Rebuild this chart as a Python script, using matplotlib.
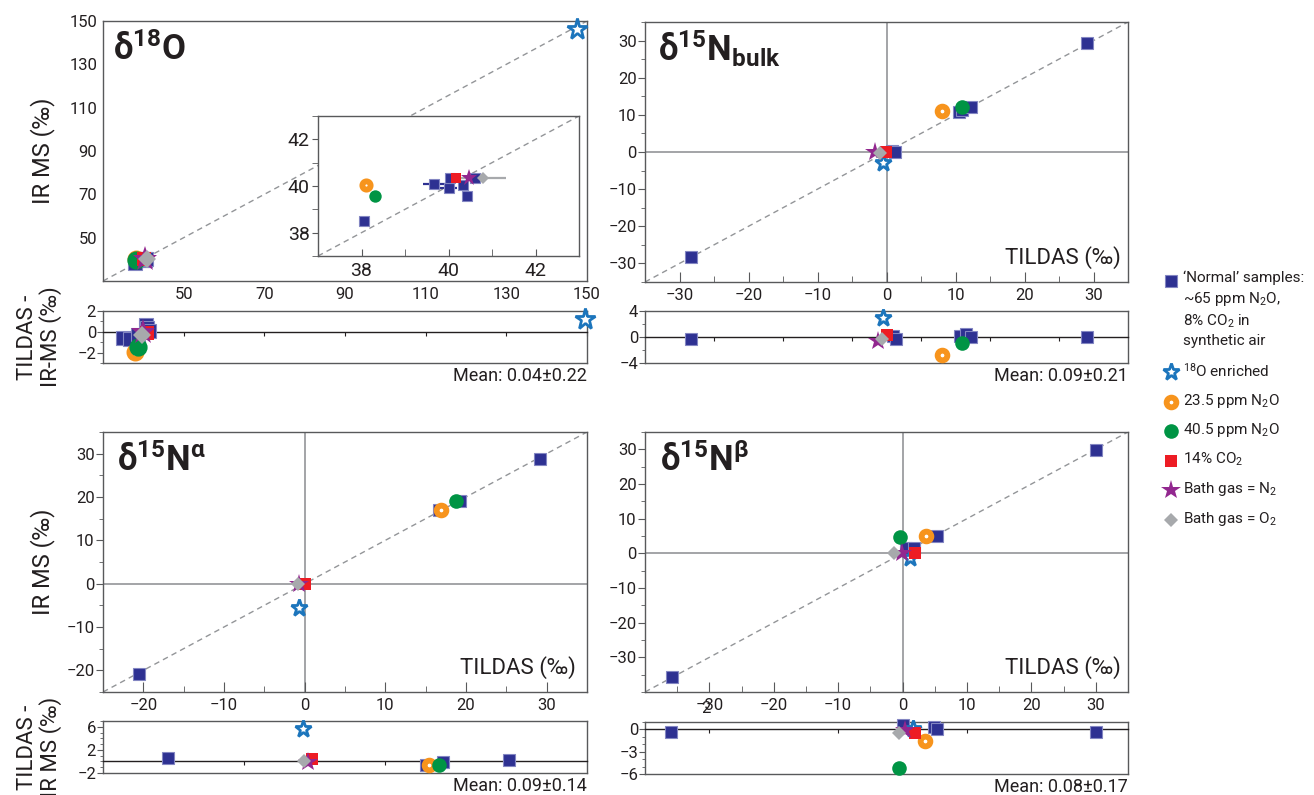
import matplotlib.pyplot as plt
from matplotlib.lines import Line2D
from matplotlib.ticker import FixedLocator, MultipleLocator
from matplotlib import transforms

plt.rcParams['font.family'] = ['Roboto', 'DejaVu Sans']
plt.rcParams['mathtext.fontset'] = 'custom'
plt.rcParams['mathtext.rm'] = 'Roboto'
plt.rcParams['mathtext.bf'] = 'Roboto:bold'
plt.rcParams['mathtext.it'] = 'Roboto:italic'
plt.rcParams['mathtext.default'] = 'regular'

W, H = 1314, 795

NAVY = '#2E3192'
BLUE = '#1C75BC'
ORANGE = '#F7941D'
GREEN = '#009444'
RED = '#ED1C24'
PURPLE = '#92278F'
GREY = '#A7A9AC'
INK = '#231F20'
FRAME = '#58595B'
DASH = '#939598'

keys = ['normal', 'enr', 'n235', 'n405', 'co2', 'bn2', 'bo2']
legend_labels = ['\u2018Normal\u2019 samples:\n~65 ppm N$_2$O,\n8% CO$_2$ in\nsynthetic air',
                 '$^{18}$O enriched', '23.5 ppm N$_2$O', '40.5 ppm N$_2$O',
                 '14% CO$_2$', 'Bath gas = N$_2$', 'Bath gas = O$_2$']

# ---- d18O (TILDAS on x, IRMS on y) ----
o18_normal_x = [38.05, 39.66, 40.0, 40.03, 40.33, 40.42, 40.62]
o18_normal_y = [38.5, 40.07, 39.9, 40.33, 40.04, 39.58, 40.33]
o18_normal_xerr = [0, 0.25, 0.2, 0, 0, 0, 0]
o18_enr_x, o18_enr_y = [147.5], [146.3]
o18_n235_x, o18_n235_y = [38.11], [40.05]
o18_n405_x, o18_n405_y = [38.30], [39.58]
o18_co2_x, o18_co2_y = [40.17], [40.36]
o18_bn2_x, o18_bn2_y = [40.48], [40.33]
o18_bo2_x, o18_bo2_y = [40.80], [40.36]
o18_bo2_xerr = [0.53]

# residuals TILDAS - IRMS
o18r_normal_x = [35.0, 36.8, 38.6, 40.6, 41.0, 41.3]
o18r_normal_y = [-0.62, -0.65, -0.35, 0.7, 0.35, 0.1]
o18r_enr_x, o18r_enr_y = [149.5], [1.2]
o18r_n235_x, o18r_n235_y = [37.9], [-1.9]
o18r_n405_x, o18r_n405_y = [38.8], [-1.45]
o18r_co2_x, o18r_co2_y = [40.8], [-0.15]
o18r_bn2_x, o18r_bn2_y = [40.0], [0.0]
o18r_bo2_x, o18r_bo2_y = [39.6], [-0.3]

# ---- d15N bulk ----
bulk_normal_x = [-28.3, 0.8, 1.2, 10.5, 10.9, 12.2, 29.1]
bulk_normal_y = [-28.4, 0.4, 0.0, 10.8, 11.3, 12.2, 29.4]
bulk_enr_x, bulk_enr_y = [-0.56], [-2.9]
bulk_n235_x, bulk_n235_y = [8.06], [11.0]
bulk_n405_x, bulk_n405_y = [11.0], [12.2]
bulk_co2_x, bulk_co2_y = [-0.06], [0.0]
bulk_bn2_x, bulk_bn2_y = [-1.7], [0.0]
bulk_bo2_x, bulk_bo2_y = [-0.96], [-0.2]

bulkr_normal_x = [-28.3, 1.0, 1.4, 10.7, 11.5, 12.2, 29.1]
bulkr_normal_y = [-0.25, 0.15, -0.25, 0.15, 0.4, 0.05, -0.05]
bulkr_enr_x, bulkr_enr_y = [-0.56], [3.0]
bulkr_n235_x, bulkr_n235_y = [8.06], [-2.77]
bulkr_n405_x, bulkr_n405_y = [11.0], [-0.97]
bulkr_co2_x, bulkr_co2_y = [0.0], [0.26]
bulkr_bn2_x, bulkr_bn2_y = [-1.2], [-0.6]
bulkr_bo2_x, bulkr_bo2_y = [-0.7], [-0.3]

# ---- d15N alpha ----
alpha_normal_x = [-20.5, 16.6, 19.3, 29.2]
alpha_normal_y = [-20.8, 17.0, 19.1, 28.7]
alpha_enr_x, alpha_enr_y = [-0.68], [-5.7]
alpha_n235_x, alpha_n235_y = [16.9], [17.0]
alpha_n405_x, alpha_n405_y = [18.7], [19.1]
alpha_co2_x, alpha_co2_y = [0.1], [-0.15]
alpha_bn2_x, alpha_bn2_y = [-0.68], [-0.15]
alpha_bo2_x, alpha_bo2_y = [-0.8], [0.0]

alphar_normal_x = [-16.9, 15.1, 17.2, 25.3]
alphar_normal_y = [0.55, -0.6, -0.03, 0.26]
alphar_enr_x, alphar_enr_y = [-0.25], [5.6]
alphar_n235_x, alphar_n235_y = [15.4], [-0.6]
alphar_n405_x, alphar_n405_y = [16.6], [-0.6]
alphar_co2_x, alphar_co2_y = [0.94], [0.43]
alphar_bn2_x, alphar_bn2_y = [0.47], [-0.03]
alphar_bo2_x, alphar_bo2_y = [-0.1], [0.0]

# ---- d15N beta ----
beta_normal_x = [-35.8, 0.6, 1.74, 5.3, 30.1]
beta_normal_y = [-35.6, 1.4, 1.4, 5.0, 29.8]
beta_enr_x, beta_enr_y = [1.08], [-1.45]
beta_n235_x, beta_n235_y = [3.66], [5.0]
beta_n405_x, beta_n405_y = [-0.35], [4.8]
beta_co2_x, beta_co2_y = [1.85], [0.0]
beta_bn2_x, beta_bn2_y = [-0.17], [0.0]
beta_bo2_x, beta_bo2_y = [-1.27], [0.0]

betar_normal_x = [-35.9, 0.1, 4.8, 5.4, 30.0]
betar_normal_y = [-0.3, 0.6, 0.36, 0.0, -0.3]
betar_enr_x, betar_enr_y = [1.67], [0.0]
betar_n235_x, betar_n235_y = [3.5], [-1.5]
betar_n405_x, betar_n405_y = [-0.5], [-5.15]
betar_co2_x, betar_co2_y = [1.9], [-0.5]
betar_bn2_x, betar_bn2_y = [0.37], [-0.08]
betar_bo2_x, betar_bo2_y = [-0.5], [-0.53]

# ticks and text
o18_ticks = [50, 70, 90, 110, 130, 150]
inset_ticks = [38, 40, 42]
n_ticks = [-30, -20, -10, 0, 10, 20, 30]
alpha_ticks = [-20, -10, 0, 10, 20, 30]
o18_res_ticks = [-2, 0, 2]
bulk_res_ticks = [-4, 0, 4]
alpha_res_ticks = [-2, 2, 6]
beta_res_ticks = [-6, -3, 0]
means = ['Mean: 0.04\u00b10.22', 'Mean: 0.09\u00b10.21', 'Mean: 0.09\u00b10.14', 'Mean: 0.08\u00b10.17']
titles = ['\u03b4$^{18}$O', '\u03b4$^{15}$N$_{\\mathbf{bulk}}$', '\u03b4$^{15}$N$^{\u03b1}$', '\u03b4$^{15}$N$^{\u03b2}$']

STYLE = {
    'normal': dict(marker='s', ms=8.5, mfc=NAVY, mec='#8386C2', mew=0.8),
    'enr': dict(marker='*', ms=12.5, mfc='white', mec=BLUE, mew=2.0),
    'n235': dict(marker='o', ms=7, mfc='white', mec=ORANGE, mew=4.2),
    'n405': dict(marker='o', ms=10.5, mfc=GREEN, mec=GREEN, mew=0),
    'co2': dict(marker='s', ms=8.5, mfc=RED, mec=RED, mew=0),
    'bn2': dict(marker='*', ms=15, mfc=PURPLE, mec=PURPLE, mew=0),
    'bo2': dict(marker='D', ms=7.5, mfc=GREY, mec=GREY, mew=0),
}


def pts(prefix):
    g = globals()
    return {k: (g[prefix + '_' + k + '_x'], g[prefix + '_' + k + '_y']) for k in keys}


def plot_points(ax, data, scale=1.0):
    for k in keys:
        x, y = data[k]
        st = dict(STYLE[k])
        st['ms'] = st['ms'] * scale
        ax.plot(x, y, ls='none', clip_on=False, zorder=5, **st)


fig = plt.figure(figsize=(W / 100, H / 100), dpi=100)


def px_axes(l, t, r, b):
    return fig.add_axes([l / W, 1 - b / H, (r - l) / W, (b - t) / H])


def frame(ax):
    for s in ax.spines.values():
        s.set_color(FRAME)
        s.set_linewidth(1.0)


def main_axes(ax, lim, xt, yt, minor=None, ticks=True):
    ax.set_xlim(lim)
    ax.set_ylim(lim)
    frame(ax)
    ax.xaxis.set_major_locator(FixedLocator(xt))
    ax.yaxis.set_major_locator(FixedLocator(yt))
    if minor:
        ax.xaxis.set_minor_locator(MultipleLocator(minor))
        ax.yaxis.set_minor_locator(MultipleLocator(minor))
    ax.tick_params(axis='x', which='both', direction='in', color=FRAME, labelsize=12,
                   labelcolor=INK, pad=4)
    ax.tick_params(axis='y', which='both', direction='out', color=FRAME, labelsize=12,
                   labelcolor=INK, pad=1)
    if ticks:
        ax.tick_params(axis='x', which='major', length=7)
        ax.tick_params(axis='x', which='minor', length=4)
        ax.tick_params(axis='y', which='major', length=5)
        ax.tick_params(axis='y', which='minor', length=3)
    else:
        ax.tick_params(which='both', length=0, pad=4)
    ax.axline((0, 0), slope=1, color=DASH, lw=1, ls=(0, (4, 3)), zorder=1)


def res_axes(ax, xlim, ylim, xt, yt, yminor, mean):
    ax.set_xlim(xlim)
    ax.set_ylim(ylim)
    frame(ax)
    ax.spines['bottom'].set_position(('data', 0))
    ax.spines['bottom'].set_color(INK)
    ax.add_line(Line2D([0, 1], [0, 0], transform=ax.transAxes, color=FRAME, lw=1, clip_on=False))
    ax.xaxis.set_major_locator(FixedLocator(xt))
    ax.tick_params(axis='x', direction='out', length=3, color=INK, labelbottom=False)
    ax.yaxis.set_major_locator(FixedLocator(yt))
    ax.yaxis.set_minor_locator(MultipleLocator(yminor))
    ax.tick_params(axis='y', which='both', direction='out', color=FRAME, labelsize=12,
                   labelcolor=INK, pad=1)
    ax.tick_params(axis='y', which='major', length=4)
    ax.tick_params(axis='y', which='minor', length=2)
    ax.text(1.0, -0.07, mean, transform=ax.transAxes, ha='right', va='top', fontsize=13, color=INK)


def title(ax, txt, x):
    ax.text(x, 0.85, txt, transform=ax.transAxes, ha='left', va='baseline', fontsize=25,
            fontweight='bold', color=INK)


def tildas(ax, x):
    ax.text(x, 0.096, 'TILDAS (\u2030)', transform=ax.transAxes, ha='right', va='center',
            fontsize=16, color=INK)


# ---- panels ----
ax1 = px_axes(103, 21, 587, 281)
main_axes(ax1, (30, 150), o18_ticks, o18_ticks, ticks=False)
plot_points(ax1, pts('o18'), scale=1.25)
title(ax1, titles[0], 0.021)
ax1.set_ylabel('IR MS (\u2030)', fontsize=17, color=INK)
ax1.yaxis.set_label_coords(-0.1, 0.5)

axi = px_axes(318, 116, 579, 256)
axi.set_zorder(3)
axi.set_xlim(37, 43)
axi.set_ylim(37, 43)
frame(axi)
axi.xaxis.set_major_locator(FixedLocator(inset_ticks))
axi.yaxis.set_major_locator(FixedLocator(inset_ticks))
axi.xaxis.set_minor_locator(MultipleLocator(1))
axi.yaxis.set_minor_locator(MultipleLocator(1))
axi.tick_params(axis='x', which='both', direction='in', length=5, color=FRAME, labelsize=14,
                labelcolor=INK, pad=4)
axi.tick_params(axis='y', which='both', direction='out', length=4, color=FRAME, labelsize=14,
                labelcolor=INK, pad=2)
axi.axline((0, 0), slope=1, color=DASH, lw=1, ls=(0, (4, 3)), zorder=1)
axi.errorbar(o18_normal_x, o18_normal_y, xerr=o18_normal_xerr, fmt='none', ecolor=NAVY,
             elinewidth=1.6, capsize=0, zorder=2)
axi.errorbar(o18_bo2_x, o18_bo2_y, xerr=o18_bo2_xerr, fmt='none', ecolor=GREY,
             elinewidth=1.6, capsize=0, zorder=2)
inset_pts = pts('o18')
inset_pts['enr'] = ([], [])
plot_points(axi, inset_pts, scale=0.85)

ax1r = px_axes(103, 311, 587, 363)
res_axes(ax1r, (30, 150), (-3, 2), o18_ticks, o18_res_ticks, 1, means[0])
plot_points(ax1r, pts('o18r'), scale=1.25)
ax1r.set_ylabel('TILDAS -\nIR-MS (\u2030)', fontsize=16, color=INK, linespacing=1.05)
ax1r.yaxis.set_label_coords(-0.085, 0.5)

ax2 = px_axes(645, 22, 1128, 282)
main_axes(ax2, (-35, 35), n_ticks, n_ticks, minor=5)
ax2.axhline(0, color=DASH, lw=1.2, zorder=1)
ax2.axvline(0, color=DASH, lw=1.2, zorder=1)
plot_points(ax2, pts('bulk'))
title(ax2, titles[1], 0.027)
tildas(ax2, 0.985)

ax2r = px_axes(645, 311, 1128, 363)
res_axes(ax2r, (-35, 35), (-4, 4), [-25, -15, -5, 5, 15, 25], bulk_res_ticks, 2, means[1])
plot_points(ax2r, pts('bulkr'))

ax3 = px_axes(103, 432, 587, 692)
main_axes(ax3, (-25, 35), alpha_ticks, alpha_ticks, minor=5)
ax3.axhline(0, color=DASH, lw=1.2, zorder=1)
ax3.axvline(0, color=DASH, lw=1.2, zorder=1)
plot_points(ax3, pts('alpha'))
title(ax3, titles[2], 0.029)
tildas(ax3, 0.977)
ax3.set_ylabel('IR MS (\u2030)', fontsize=17, color=INK)
ax3.yaxis.set_label_coords(-0.1, 0.5)

ax3r = px_axes(103, 721, 587, 773)
res_axes(ax3r, (-25, 35), (-2, 7), [-7.5, 10], alpha_res_ticks, 1, means[2])
plot_points(ax3r, pts('alphar'))
ax3r.set_ylabel('TILDAS -\nIR MS (\u2030)', fontsize=16, color=INK, linespacing=1.05)
ax3r.yaxis.set_label_coords(-0.085, 0.5)

ax4 = px_axes(645, 432, 1128, 692)
main_axes(ax4, (-40, 35), n_ticks, n_ticks, minor=5)
ax4.axhline(0, color=DASH, lw=1.2, zorder=1)
ax4.axvline(0, color=DASH, lw=1.2, zorder=1)
plot_points(ax4, pts('beta'))
title(ax4, titles[3], 0.031)
tildas(ax4, 0.985)
# stray glyph printed over the -30 label in the original
ax4.text(-30.6, -0.065, '2', transform=transforms.blended_transform_factory(ax4.transData, ax4.transAxes),
         ha='center', va='center', fontsize=12, color=INK)

ax4r = px_axes(645, 722, 1128, 774)
res_axes(ax4r, (-40, 35), (-6, 1), [-30, -10, 10, 30], beta_res_ticks, 1, means[3])
plot_points(ax4r, pts('betar'))

# ---- legend ----
y = 281
for k, lab in zip(keys, legend_labels):
    st = dict(STYLE[k])
    fig.add_artist(Line2D([1171 / W], [1 - y / H], transform=fig.transFigure, ls='none', **st))
    fig.text(1183 / W, 1 - (y - 10) / H, lab, ha='left', va='top', fontsize=11,
             color=INK, linespacing=1.35)
    y += 20.5 * lab.count('\n') + 29.5

fig.savefig('out.png', dpi=100)
